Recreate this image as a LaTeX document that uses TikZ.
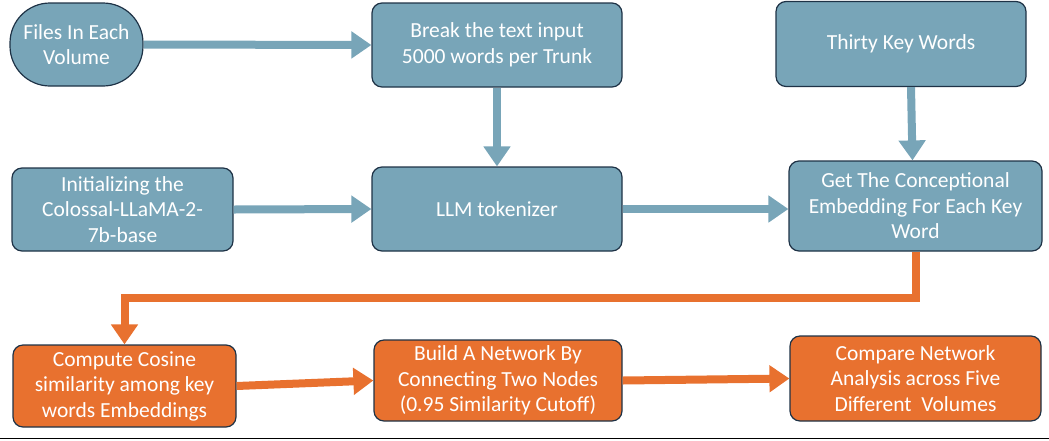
\documentclass[tikz,border=0pt]{standalone}
\usepackage{fontspec}
\setmainfont{Carlito}
\usetikzlibrary{arrows.meta}
\definecolor{boxblue}{HTML}{78A5B8}
\definecolor{boxorange}{HTML}{E8712F}
\definecolor{boxedge}{HTML}{1E3246}
\begin{document}
\begin{tikzpicture}[x=1pt,y=-1pt,
  box/.style={draw=boxedge, line width=1.2pt, rounded corners=10pt, text=white, align=center,
    font=\fontsize{21.5}{25.5}\selectfont, inner sep=0pt},
  bluebox/.style={box, fill=boxblue},
  orangebox/.style={box, fill=boxorange},
  arr/.style={line width=8pt, -{Triangle[width=26pt,length=20pt]}},
  bluearr/.style={arr, draw=boxblue},
  orangearr/.style={arr, draw=boxorange}]
\useasboundingbox (0,0) rectangle (1049,440);
\node[bluebox, minimum width=133pt, minimum height=83pt, rounded corners=40pt] (files) at (76.5,44.5) {Files In Each\\Volume};
\node[bluebox, minimum width=250pt, minimum height=84pt] (brk) at (497,45) {Break the text input\\5000 words per Trunk};
\node[bluebox, minimum width=250pt, minimum height=85pt] (thirty) at (901,44) {Thirty Key Words};
\node[bluebox, minimum width=221pt, minimum height=83pt] (init) at (122.5,209.5) {Initializing the\\Colossal-LLaMA-2-\\7b-base};
\node[bluebox, minimum width=250pt, minimum height=84pt] (llm) at (497,209) {LLM tokenizer};
\node[bluebox, minimum width=253pt, minimum height=90pt] (get) at (915.5,206) {Get The Conceptional\\Embedding For Each Key\\Word};
\node[orangebox, minimum width=223pt, minimum height=82pt] (cos) at (124.5,386) {Compute Cosine\\similarity among key\\words Embeddings};
\node[orangebox, minimum width=248pt, minimum height=81pt] (net) at (498,380.5) {Build A Network By\\Connecting Two Nodes\\(0.95 Similarity Cutoff)};
\node[orangebox, minimum width=251pt, minimum height=85pt] (cmp) at (915.5,378.5) {Compare Network\\Analysis across Five\\Different\ \ Volumes};
\draw[bluearr] (files.east) -- (brk.west);
\draw[bluearr] (brk.south) -- (llm.north);
\draw[bluearr] ([xshift=10pt]thirty.south) -- ([xshift=-3pt]get.north);
\draw[bluearr] (init.east) -- (llm.west);
\draw[bluearr] (llm.east) -- (get.west |- llm.east);
\draw[orangearr] (get.south) -- ++(0,46) -| (cos.north);
\draw[orangearr] (cos.east) -- (net.west);
\draw[orangearr] (net.east) -- (cmp.west);
\draw[line width=1.5pt] (0,438.5) -- (1049,438.5);
\end{tikzpicture}
\end{document}
